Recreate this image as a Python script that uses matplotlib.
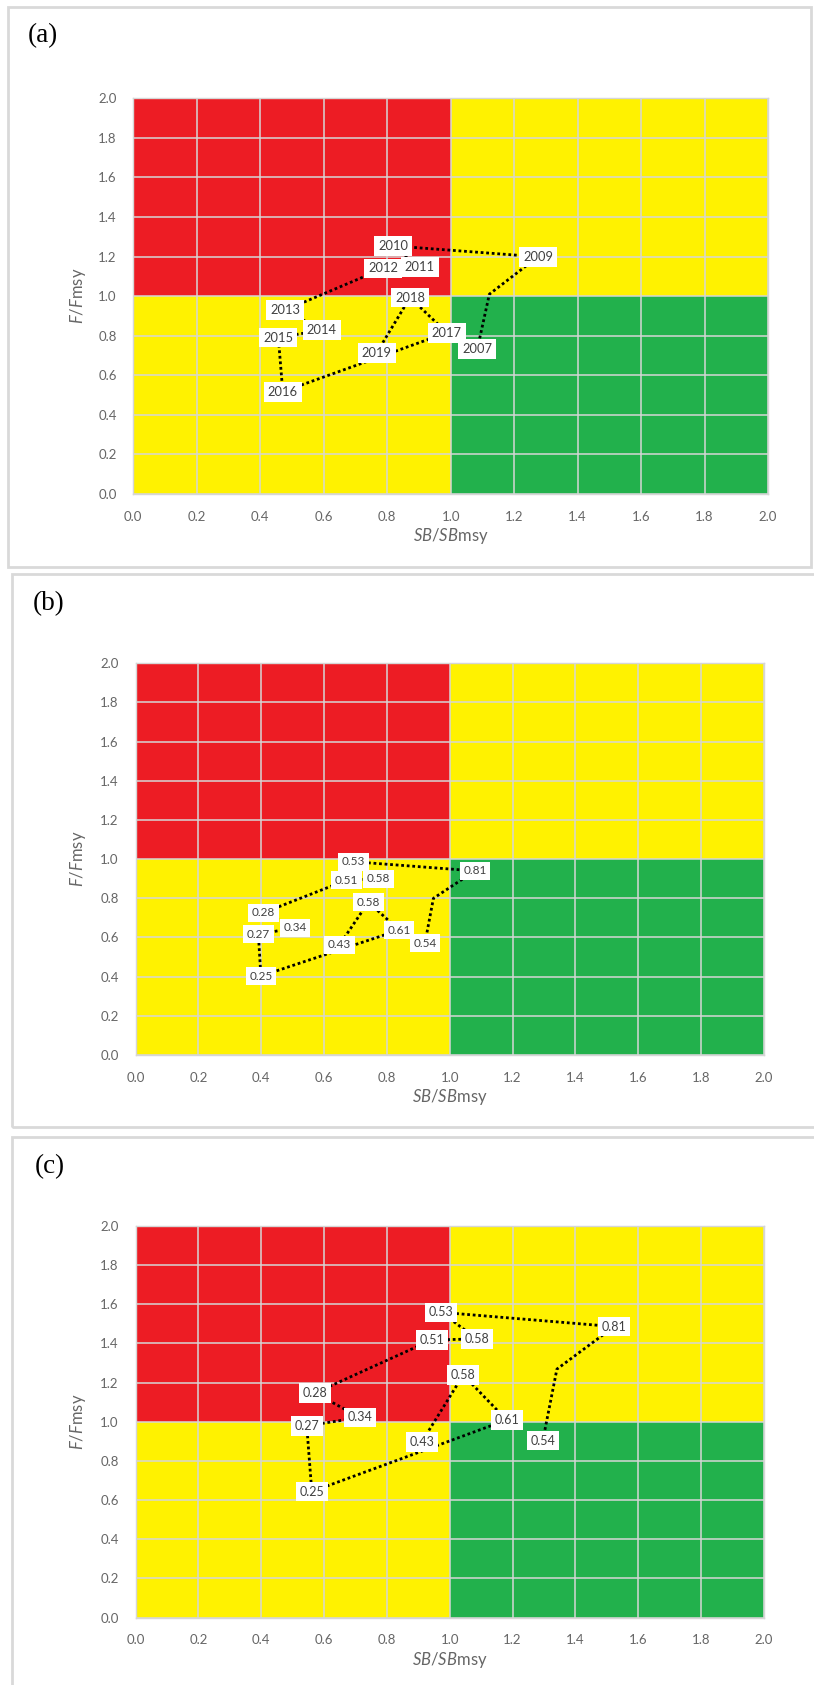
import matplotlib
matplotlib.use("Agg")
import matplotlib.pyplot as plt
from matplotlib.patches import Rectangle
import numpy as np

plt.rcParams["font.family"] = ["Lato", "DejaVu Sans"]
plt.rcParams["mathtext.fontset"] = "custom"
plt.rcParams["mathtext.it"] = "Lato:italic"
plt.rcParams["mathtext.rm"] = "Lato"

# ---- data: stock trajectory 2007-2019 (SB/SBmsy, F/Fmsy) ----
years = ["2007", "2008", "2009", "2010", "2011", "2012", "2013",
         "2014", "2015", "2016", "2017", "2018", "2019"]

a_sb = [1.084, 1.122, 1.275, 0.819, 0.903, 0.788, 0.478,
        0.594, 0.457, 0.471, 0.988, 0.872, 0.767]
a_f = [0.732, 1.010, 1.199, 1.254, 1.148, 1.140, 0.929,
       0.828, 0.791, 0.517, 0.815, 0.993, 0.714]
a_labels = ["2007", None, "2009", "2010", "2011", "2012", "2013",
            "2014", "2015", "2016", "2017", "2018", "2019"]

b_sb = [0.921, 0.948, 1.080, 0.693, 0.773, 0.672, 0.407,
        0.508, 0.391, 0.399, 0.839, 0.741, 0.649]
b_f = [0.570, 0.800, 0.940, 0.987, 0.899, 0.893, 0.726,
       0.650, 0.616, 0.403, 0.638, 0.780, 0.562]
b_labels = ["0.54", None, "0.81", "0.53", "0.58", "0.51", "0.28",
            "0.34", "0.27", "0.25", "0.61", "0.58", "0.43"]

c_sb = [1.296, 1.341, 1.523, 0.973, 1.086, 0.943, 0.571,
        0.714, 0.545, 0.561, 1.181, 1.043, 0.911]
c_f = [0.903, 1.269, 1.486, 1.559, 1.423, 1.418, 1.147,
       1.022, 0.979, 0.643, 1.009, 1.239, 0.897]
c_labels = ["0.54", None, "0.81", "0.53", "0.58", "0.51", "0.28",
            "0.34", "0.27", "0.25", "0.61", "0.58", "0.43"]

ticks = [0.0, 0.2, 0.4, 0.6, 0.8, 1.0, 1.2, 1.4, 1.6, 1.8, 2.0]
tick_labels = ["0.0", "0.2", "0.4", "0.6", "0.8", "1.0",
               "1.2", "1.4", "1.6", "1.8", "2.0"]
ref_point = 1.0
axis_max = 2.0

RED = "#ED1C24"
YELLOW = "#FFF200"
GREEN = "#22B14C"
GRID = "#D6D6D6"
TXT = "#666666"

W, H = 814, 1685
fig = plt.figure(figsize=(W / 100, H / 100), dpi=100)


def fig_rect(x0, y0, x1, y1):
    """pixel box (top-left origin) -> figure fraction rect"""
    return [x0 / W, 1 - y1 / H, (x1 - x0) / W, (y1 - y0) / H]


def kobe(box, sb, f, labels, label_size, letter, letter_xy, frame):
    ax = fig.add_axes(fig_rect(*box))
    ax.set_xlim(0, axis_max)
    ax.set_ylim(0, axis_max)
    # quadrants
    ax.fill_between([0, ref_point], ref_point, axis_max, color=RED, lw=0, zorder=1)
    ax.fill_between([ref_point, axis_max], ref_point, axis_max, color=YELLOW, lw=0, zorder=1)
    ax.fill_between([0, ref_point], 0, ref_point, color=YELLOW, lw=0, zorder=1)
    ax.fill_between([ref_point, axis_max], 0, ref_point, color=GREEN, lw=0, zorder=1)

    ax.set_xticks(ticks)
    ax.set_yticks(ticks)
    ax.set_xticklabels(tick_labels)
    ax.set_yticklabels(tick_labels)
    ax.tick_params(length=0, labelsize=9.5, colors=TXT)
    ax.tick_params(axis="y", pad=12)
    ax.tick_params(axis="x", pad=12)
    ax.grid(True, color=GRID, lw=1.1, zorder=2)
    ax.set_axisbelow(False)
    for s in ax.spines.values():
        s.set_color(GRID)
        s.set_linewidth(1.0)

    ax.plot(sb, f, color="black", lw=2.0, linestyle=(0, (1, 1)), zorder=3)
    for x, y, t in zip(sb, f, labels):
        if t is None:
            continue
        ax.text(x, y, t, ha="center", va="center", fontsize=label_size,
                color="#404040", zorder=4,
                bbox=dict(boxstyle="square,pad=0.3", fc="white", ec="none"))

    x0, y0, x1, y1 = box
    fig.text((x0 + x1) / 2 / W, 1 - (y1 + 42) / H,
             r"$\mathit{SB/SB}\mathrm{msy}$", ha="center", va="center",
             fontsize=12, color=TXT)
    fig.text(78 / W, 1 - (y0 + y1) / 2 / H,
             r"$\mathit{F/F}\mathrm{msy}$", ha="center", va="center",
             rotation=90, fontsize=12, color=TXT)

    fig.text(letter_xy[0] / W, 1 - letter_xy[1] / H, letter,
             ha="left", va="center", fontsize=19.5,
             family="Liberation Serif", color="black")

    fx0, fy0, fx1, fy1 = frame
    fig.add_artist(Rectangle((fx0 / W, 1 - fy1 / H), (fx1 - fx0) / W,
                             (fy1 - fy0) / H, transform=fig.transFigure,
                             fill=False, ec="#D9D9D9", lw=2))
    return ax


kobe((133.3, 98.3, 768, 494), a_sb, a_f, a_labels, 9.3,
     "(a)", (28, 36), (7.5, 7, 811, 567))
kobe((135.5, 663.3, 764, 1055), b_sb, b_f, b_labels, 8.5,
     "(b)", (33, 604), (11.5, 574, 830, 1127))
kobe((135.5, 1226, 764, 1617.5), c_sb, c_f, c_labels, 9.0,
     "(c)", (35, 1167), (11.5, 1137, 830, 1700))

fig.savefig("out.png", dpi=100, facecolor="white")
